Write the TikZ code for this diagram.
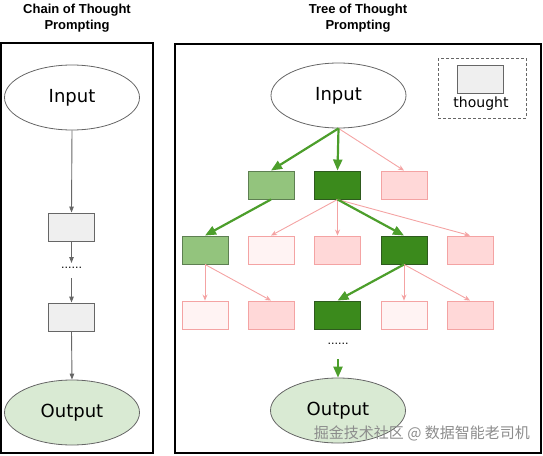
\documentclass[tikz,border=0pt]{standalone}
\usepackage{fontspec}
\setmainfont{DejaVu Sans}
\newfontfamily\titlefont{Liberation Sans}
\newfontfamily\cjk{Noto Sans CJK SC}
\usetikzlibrary{arrows.meta,shapes.geometric}
\definecolor{dkgreen}{HTML}{3B8A1C}
\definecolor{dkgreenline}{HTML}{2E5A1E}
\definecolor{ltgreen}{HTML}{93C47D}
\definecolor{ltgreenline}{HTML}{5E7F52}
\definecolor{pinkfill}{HTML}{FFD8D8}
\definecolor{pinkpale}{HTML}{FFF3F3}
\definecolor{pinkline}{HTML}{F4A3A3}
\definecolor{arrowgreen}{HTML}{4C9E2B}
\definecolor{outfill}{HTML}{D9EAD3}
\definecolor{greybox}{HTML}{EFEFEF}
\tikzset{
  panel/.style={draw=black, line width=2pt},
  oval/.style={ellipse, draw=black!60, line width=0.8pt, minimum width=135pt, minimum height=65pt, inner sep=0pt, font=\fontsize{18}{20}\selectfont},
  tbox/.style={rectangle, minimum width=46pt, minimum height=28pt, inner sep=0pt, line width=0.9pt},
  greyb/.style={tbox, draw=black!60, fill=greybox},
  dkb/.style={tbox, draw=dkgreenline, fill=dkgreen},
  ltb/.style={tbox, draw=ltgreenline, fill=ltgreen},
  pkb/.style={tbox, draw=pinkline, fill=pinkfill},
  ppb/.style={tbox, draw=pinkline, fill=pinkpale},
  garrow/.style={draw=arrowgreen, line width=2.2pt, -{Triangle[length=11pt,width=9pt]}},
  parrow/.style={draw=pinkline, line width=0.9pt, -{Stealth[length=6pt,width=5pt]}},
  karrow/.style={draw=black!60, line width=0.9pt, -{Triangle[length=6pt,width=4.5pt]}},
  ttl/.style={font=\titlefont\bfseries\fontsize{13}{15.5}\selectfont, align=center},
  dots/.style={font=\fontsize{11}{12}\selectfont, inner sep=1pt}
}
\begin{document}
\begin{tikzpicture}[x=1pt,y=-1pt]
\useasboundingbox (0,0) rectangle (543,455);
% titles
\node[ttl] (t1) at (77,18) {Chain of Thought\\Prompting};
\node[ttl] (t2) at (358,18) {Tree of Thought\\Prompting};
% panels
\draw[panel] (1,43) rectangle (153,453);
\draw[panel] (175,44) rectangle (541,453);
% left chain
\node[oval, fill=white] (lin) at (72,97.5) {Input};
\node[greyb] (lb1) at (71.5,227) {};
\node[dots] (ldots) at (71.5,268) {......};
\node[greyb] (lb2) at (71.5,317) {};
\node[oval, fill=outfill] (lout) at (72,412.5) {Output};
\coordinate (ld1) at (71.5,263);
\coordinate (ld2) at (71.5,278);
\draw[karrow] (lin.south) -- (lb1.north);
\draw[karrow] (lb1.south) -- (ld1);
\draw[karrow] (ld2) -- (lb2.north);
\draw[karrow] (lb2.south) -- (lout.north);
% legend
\draw[dashed, draw=black!60, line width=0.9pt, dash pattern=on 3pt off 2pt] (438,58) rectangle (526,118);
\node[greyb] (leg) at (480,79.5) {};
\node[font=\fontsize{14}{16}\selectfont, inner sep=0pt] (legt) at (481,104) {thought};
% tree
\node[oval, fill=white] (rin) at (338.5,95.5) {Input};
\node[ltb] (a1) at (271,185) {};
\node[dkb] (a2) at (337.5,185) {};
\node[pkb] (a3) at (404,185) {};
\node[ltb] (b1) at (205,250) {};
\node[ppb] (b2) at (271,250) {};
\node[pkb] (b3) at (337.5,250) {};
\node[dkb] (b4) at (404,250) {};
\node[pkb] (b5) at (470,250) {};
\node[ppb] (c1) at (205,315) {};
\node[pkb] (c2) at (271,315) {};
\node[dkb] (c3) at (337.5,315) {};
\node[ppb] (c4) at (404,315) {};
\node[pkb] (c5) at (470,315) {};
\node[dots] (rdots) at (338,344) {......};
\node[oval, fill=outfill] (rout) at (338,410.5) {Output};
\coordinate (rd) at (338,359);
% edges
\draw[parrow] (rin.south) -- (a3.north);
\draw[garrow] (rin.south) -- (a1.north);
\draw[garrow] (rin.south) -- (a2.north);
\draw[garrow] (a1.south) -- (b1.north);
\draw[parrow] (a2.south) -- (b2.north);
\draw[parrow] (a2.south) -- (b3.north);
\draw[parrow] (a2.south) -- (b5.north);
\draw[garrow] (a2.south) -- (b4.north);
\draw[parrow] (b1.south) -- (c1.north);
\draw[parrow] (b1.south) -- (c2.north);
\draw[parrow] (b4.south) -- (c4.north);
\draw[parrow] (b4.south) -- (c5.north);
\draw[garrow] (b4.south) -- (c3.north);
\draw[garrow] (rd) -- (rout.north);
% watermark
\node[font=\cjk\fontsize{15}{17}\selectfont, text=black!45, anchor=east, inner sep=0pt] (wm) at (530,433) {掘金技术社区 @ 数据智能老司机};
\end{tikzpicture}
\end{document}
